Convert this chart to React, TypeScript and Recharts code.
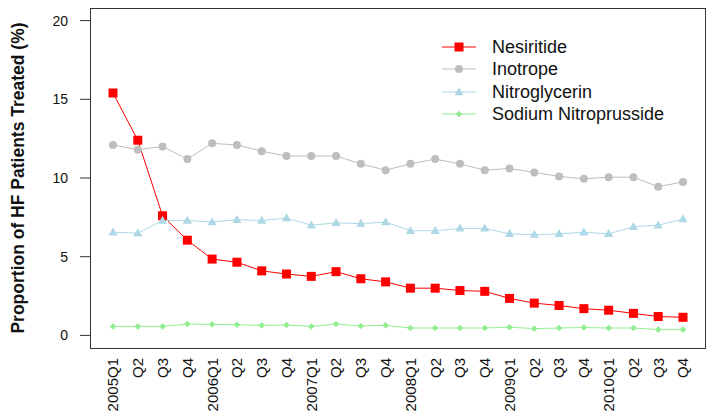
import React from 'react';
import { LineChart, Line, XAxis, YAxis, Legend } from 'recharts';

const quarters = [
  '2005Q1', '2005Q2', '2005Q3', '2005Q4',
  '2006Q1', '2006Q2', '2006Q3', '2006Q4',
  '2007Q1', '2007Q2', '2007Q3', '2007Q4',
  '2008Q1', '2008Q2', '2008Q3', '2008Q4',
  '2009Q1', '2009Q2', '2009Q3', '2009Q4',
  '2010Q1', '2010Q2', '2010Q3', '2010Q4',
];
const tickLabels = [
  '2005Q1', 'Q2', 'Q3', 'Q4',
  '2006Q1', 'Q2', 'Q3', 'Q4',
  '2007Q1', 'Q2', 'Q3', 'Q4',
  '2008Q1', 'Q2', 'Q3', 'Q4',
  '2009Q1', 'Q2', 'Q3', 'Q4',
  '2010Q1', 'Q2', 'Q3', 'Q4',
];
const nesiritide = [15.4, 12.4, 7.6, 6.05, 4.85, 4.65, 4.1, 3.9, 3.75, 4.05, 3.6, 3.4, 3.0, 3.0, 2.85, 2.8, 2.35, 2.05, 1.9, 1.7, 1.6, 1.4, 1.2, 1.15];
const inotrope = [12.1, 11.8, 12.0, 11.2, 12.2, 12.1, 11.7, 11.4, 11.4, 11.4, 10.9, 10.5, 10.9, 11.2, 10.9, 10.5, 10.6, 10.35, 10.1, 9.95, 10.05, 10.05, 9.45, 9.75];
const nitroglycerin = [6.55, 6.5, 7.3, 7.3, 7.2, 7.35, 7.3, 7.45, 7.0, 7.15, 7.1, 7.2, 6.65, 6.65, 6.8, 6.8, 6.45, 6.4, 6.45, 6.55, 6.45, 6.9, 7.0, 7.4];
const sodiumNitroprusside = [0.57, 0.57, 0.57, 0.72, 0.7, 0.68, 0.64, 0.66, 0.57, 0.72, 0.6, 0.64, 0.47, 0.47, 0.47, 0.47, 0.52, 0.43, 0.47, 0.5, 0.47, 0.47, 0.37, 0.37];
const yTicks = [0, 5, 10, 15, 20];

const data = quarters.map((q, i) => ({
  q,
  nes: nesiritide[i],
  ino: inotrope[i],
  nit: nitroglycerin[i],
  sod: sodiumNitroprusside[i],
}));

const FONT = '"Liberation Sans", Arial, sans-serif';

const series = [
  { key: 'nes', name: 'Nesiritide', color: '#ff0000', shape: 'square' },
  { key: 'ino', name: 'Inotrope', color: '#bebebe', shape: 'circle' },
  { key: 'nit', name: 'Nitroglycerin', color: '#add8e6', shape: 'triangle' },
  { key: 'sod', name: 'Sodium Nitroprusside', color: '#90ee90', shape: 'diamond' },
];

const marker = (shape: string, color: string, cx: number, cy: number, key?: string) => {
  if (shape === 'square') return <rect key={key} x={cx - 4.5} y={cy - 4.5} width={9} height={9} fill={color} />;
  if (shape === 'circle') return <circle key={key} cx={cx} cy={cy} r={4} fill={color} />;
  if (shape === 'triangle')
    return <polygon key={key} points={`${cx},${cy - 4.8} ${cx + 4.6},${cy + 3.2} ${cx - 4.6},${cy + 3.2}`} fill={color} />;
  return <polygon key={key} points={`${cx},${cy - 3.3} ${cx + 3.3},${cy} ${cx},${cy + 3.3} ${cx - 3.3},${cy}`} fill={color} />;
};

const XTick = (props: any) => {
  const { x, y, payload } = props;
  const idx = quarters.indexOf(payload.value);
  return (
    <text
      x={x}
      y={y}
      dy="0.36em"
      textAnchor="end"
      transform={`rotate(-90, ${x}, ${y})`}
      fontSize={15}
      fontFamily={FONT}
      fill="#111"
    >
      {tickLabels[idx]}
    </text>
  );
};

const YTitle = (props: any) => {
  const vb = props.viewBox || {};
  const cy = (vb.y ?? 8) + (vb.height ?? 340) / 2;
  const cx = 18;
  return (
    <text
      x={cx}
      y={cy}
      dy="0.36em"
      textAnchor="middle"
      transform={`rotate(-90, ${cx}, ${cy})`}
      fontSize={17.5}
      fontWeight="bold"
      fontFamily={FONT}
      fill="#111"
    >
      Proportion of HF Patients Treated (%)
    </text>
  );
};

const LegendBox = () => (
  <div style={{ fontFamily: FONT, fontSize: 18, color: '#111' }}>
    {series.map((s) => (
      <div key={s.key} style={{ display: 'flex', alignItems: 'center', height: 22.3 }}>
        <svg width={34} height={22} style={{ display: 'block' }}>
          <line x1={0} y1={11} x2={34} y2={11} stroke={s.color} strokeWidth={1} />
          {marker(s.shape, s.color, 17, 11)}
        </svg>
        <span style={{ marginLeft: 16, lineHeight: '22px' }}>{s.name}</span>
      </div>
    ))}
  </div>
);

export default function App() {
  return (
    <div style={{ position: 'absolute', left: 0, top: 0, width: 714, height: 418, background: '#fff' }}>
      <LineChart width={714} height={418} data={data} margin={{ top: 8, right: 9, left: 0, bottom: 0 }}>
        <XAxis
          dataKey="q"
          scale="point"
          padding={{ left: 23, right: 22 }}
          axisLine={false}
          tickLine={false}
          tickSize={0}
          tickMargin={10}
          height={70}
          interval={0}
          tick={<XTick />}
        />
        <YAxis
          domain={[-0.8, 20.8]}
          ticks={yTicks}
          allowDataOverflow
          width={90}
          axisLine={false}
          tickLine={{ stroke: '#333' }}
          tickSize={10}
          tickMargin={12}
          tick={{ fill: '#111', fontSize: 14, fontFamily: FONT }}
          label={{ content: <YTitle /> }}
        />
        <Legend
          layout="vertical"
          align="center"
          verticalAlign="middle"
          wrapperStyle={{ left: 442, top: 36, width: 'auto' }}
          content={<LegendBox />}
        />
        {series.map((s) => (
          <Line
            key={s.key}
            dataKey={s.key}
            name={s.name}
            stroke={s.color}
            strokeWidth={1}
            isAnimationActive={false}
            dot={(p: any) => marker(s.shape, s.color, p.cx, p.cy, `${s.key}-${p.index}`)}
            activeDot={false}
          />
        ))}
      </LineChart>
      <div
        style={{
          position: 'absolute',
          left: 90,
          top: 8,
          width: 616,
          height: 341,
          border: '1px solid #333',
          boxSizing: 'border-box',
          pointerEvents: 'none',
        }}
      />
    </div>
  );
}
